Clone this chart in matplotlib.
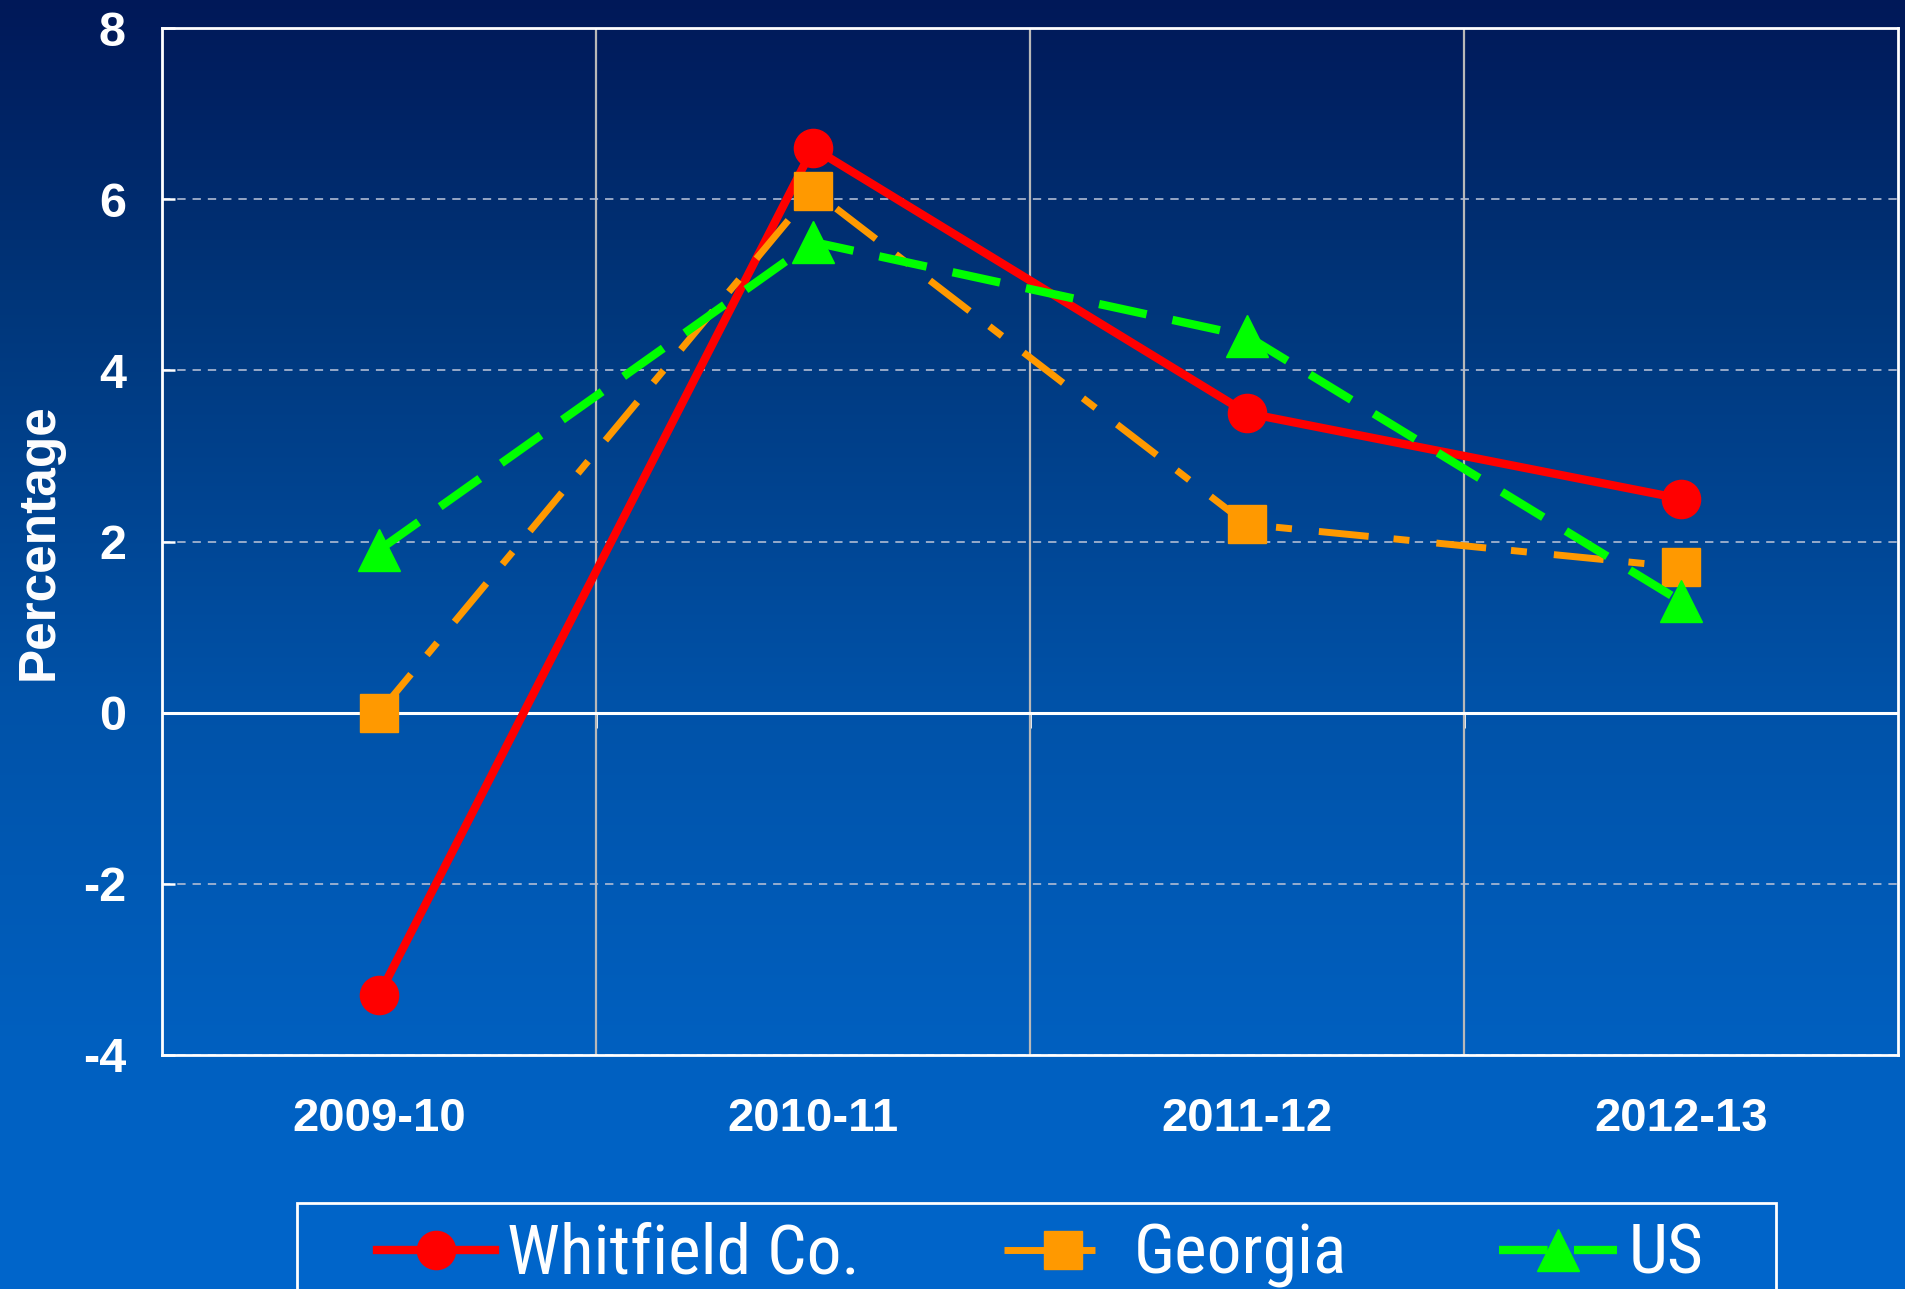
import numpy as np
import matplotlib
matplotlib.use("Agg")
import matplotlib.pyplot as plt
from matplotlib import font_manager
from matplotlib.font_manager import FontProperties
from matplotlib.patches import Rectangle

# -----------------------------
# Data
# -----------------------------
periods = ["2009-10", "2010-11", "2011-12", "2012-13"]
whitfield = [-3.3, 6.6, 3.5, 2.5]
georgia = [0.0, 6.1, 2.2, 1.7]
us = [1.9, 5.5, 4.4, 1.3]
series_names = ["Whitfield Co.", "Georgia", "US"]
y_ticks = [-4, -2, 0, 2, 4, 6, 8]

# -----------------------------
# Fonts / style
# -----------------------------
plt.rcParams["lines.scale_dashes"] = False


def find_narrow():
    # look for a narrow / condensed regular face for the legend
    good = []
    for f in font_manager.fontManager.ttflist:
        label = (f.name + " " + str(f.stretch)).lower()
        if ("narrow" in label or "condensed" in label) and f.style == "normal":
            w = f.weight if isinstance(f.weight, int) else 400
            if w <= 400:
                good.append(f)
    prefs = ["liberation sans narrow", "roboto condensed", "dejavu sans", "open sans"]
    good.sort(key=lambda f: next((i for i, p in enumerate(prefs) if p in f.name.lower()), 99))
    return good[0].fname if good else None


narrow_file = find_narrow()
if narrow_file:
    legend_prop = FontProperties(fname=narrow_file, size=50)
else:
    legend_prop = FontProperties(family="Liberation Sans", size=46)

bold_font = dict(family="Liberation Sans", weight="bold", color="white")

W, H = 1906, 1289
fig = plt.figure(figsize=(W / 100, H / 100), dpi=100)

# background gradient (navy at top to bright blue at bottom)
bg = fig.add_axes([0, 0, 1, 1], zorder=-10)
stops_y = [0, 300, 700, 1050, 1289]
stops_g = [24, 54, 82, 96, 102]
stops_b = [88, 122, 168, 192, 204]
yy = np.arange(H)
grad = np.zeros((H, 1, 3))
grad[:, 0, 1] = np.interp(yy, stops_y, stops_g) / 255
grad[:, 0, 2] = np.interp(yy, stops_y, stops_b) / 255
bg.imshow(grad, aspect="auto", extent=[0, 1, 0, 1], origin="upper")
bg.axis("off")

ax = fig.add_axes([162 / W, 1 - 1055 / H, (1898 - 162) / W, (1055 - 28) / H])
ax.set_facecolor("none")

x = np.arange(len(periods))
l1, = ax.plot(x, whitfield, color="#FF0000", lw=6, marker="o", ms=27.5,
              label=series_names[0], zorder=3)
l2, = ax.plot(x, georgia, color="#FF9900", lw=5, ls=(0, (36, 18, 11.5, 19.5)),
              marker="s", ms=27, label=series_names[1], zorder=4)
l3, = ax.plot(x, us, color="#00FF00", lw=6, ls=(0, (35, 19)), marker="^", ms=30,
              label=series_names[2], zorder=5)

ax.set_xlim(-0.5, len(periods) - 0.5)
ax.set_ylim(-4, 8)
ax.set_yticks(y_ticks)
ax.set_yticklabels([str(v) for v in y_ticks], fontsize=35, **bold_font)
ax.set_xticks(x)
ax.set_xticklabels(periods, fontsize=34, **bold_font)
ax.set_xticks(x[:-1] + 0.5, minor=True)

ax.tick_params(axis="y", direction="in", length=9.5, width=1.8, color="white", pad=26)
ax.tick_params(axis="x", which="major", length=0, pad=30)
ax.tick_params(axis="x", which="minor", length=0)

# gridlines
ax.grid(axis="x", which="minor", color="#b8b8b8", lw=1.6, ls="-", zorder=1)
ax.grid(axis="y", which="major", color="#b0bcd4", lw=1.2, ls=(0, (6, 5)), zorder=1)
ax.axhline(0, color="white", lw=2.2, zorder=2)

for sp in ax.spines.values():
    sp.set_color("white")
    sp.set_linewidth(2)

# small tick marks on the zero line
sec = ax.secondary_xaxis(4 / 12)
sec.set_xticks(x[:-1] + 0.5)
sec.set_xticklabels([])
sec.tick_params(direction="out", length=11, width=2, color="white")
sec.spines["bottom"].set_visible(False)

ax.set_ylabel("Percentage", fontsize=37, **bold_font)
ax.yaxis.set_label_coords(-0.0565, 0.5)

# legend: one entry per legend so each sits where it does in the slide
for line, name, left in zip([l1, l2, l3], series_names, [377, 1004, 1499]):
    fig.legend([line], [name], loc="upper left",
               bbox_to_anchor=(left / W, 1 - 1222 / H), frameon=False,
               prop=legend_prop, labelcolor="white", handlelength=1.7,
               handletextpad=0.17, borderpad=0, borderaxespad=0)
fig.patches.append(Rectangle((297 / W, -0.05), (1776 - 297) / W, 0.05 + (1289 - 1203) / H,
                             transform=fig.transFigure, fill=False,
                             edgecolor="white", lw=2))

fig.savefig("out.png", dpi=100)
